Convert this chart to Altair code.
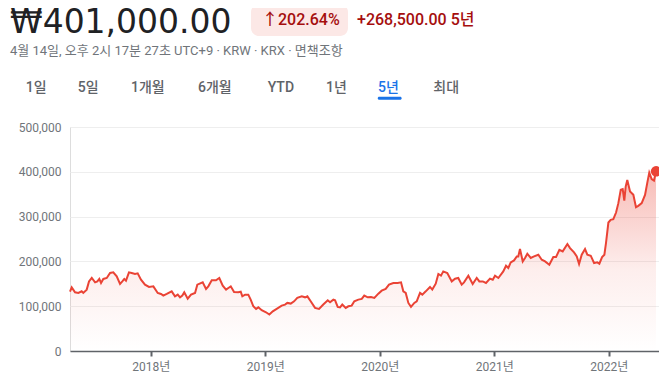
import altair as alt
import pandas as pd

# decimal-year positions and closing prices (KRW)
years = [
    2017.295, 2017.310, 2017.339, 2017.368, 2017.397, 2017.411, 2017.441, 2017.461, 2017.485, 2017.514,
    2017.534, 2017.551, 2017.566, 2017.586, 2017.616, 2017.645, 2017.673, 2017.703, 2017.732, 2017.752,
    2017.769, 2017.784, 2017.810, 2017.834, 2017.863, 2017.886, 2017.915, 2017.950, 2017.985, 2018.023,
    2018.061, 2018.090, 2018.110, 2018.140, 2018.183, 2018.212, 2018.236, 2018.256, 2018.276, 2018.293,
    2018.323, 2018.352, 2018.387, 2018.407, 2018.454, 2018.483, 2018.503, 2018.533, 2018.570, 2018.599,
    2018.629, 2018.658, 2018.678, 2018.699, 2018.728, 2018.765, 2018.786, 2018.800, 2018.824, 2018.852,
    2018.873, 2018.896, 2018.920, 2018.940, 2018.969, 2019.007, 2019.036, 2019.066, 2019.100, 2019.144,
    2019.173, 2019.193, 2019.223, 2019.252, 2019.280, 2019.319, 2019.348, 2019.368, 2019.397, 2019.435,
    2019.470, 2019.507, 2019.546, 2019.566, 2019.595, 2019.610, 2019.633, 2019.653, 2019.673, 2019.703,
    2019.726, 2019.755, 2019.778, 2019.813, 2019.843, 2019.865, 2019.895, 2019.924, 2019.953, 2019.988,
    2020.017, 2020.052, 2020.081, 2020.119, 2020.157, 2020.186, 2020.206, 2020.227, 2020.250, 2020.273,
    2020.302, 2020.323, 2020.352, 2020.372, 2020.402, 2020.439, 2020.459, 2020.489, 2020.512, 2020.535,
    2020.555, 2020.590, 2020.629, 2020.658, 2020.686, 2020.716, 2020.736, 2020.774, 2020.812, 2020.847,
    2020.870, 2020.900, 2020.928, 2020.963, 2020.987, 2021.007, 2021.036, 2021.079, 2021.103, 2021.123,
    2021.144, 2021.173, 2021.197, 2021.210, 2021.225, 2021.249, 2021.269, 2021.289, 2021.319, 2021.348,
    2021.385, 2021.415, 2021.444, 2021.481, 2021.516, 2021.540, 2021.569, 2021.598, 2021.639, 2021.662,
    2021.697, 2021.721, 2021.741, 2021.764, 2021.793, 2021.813, 2021.843, 2021.872, 2021.900, 2021.918,
    2021.942, 2021.962, 2021.976, 2021.997, 2022.017, 2022.040, 2022.064, 2022.084, 2022.105, 2022.122,
    2022.136, 2022.148, 2022.162, 2022.186, 2022.215, 2022.238, 2022.258, 2022.288, 2022.317, 2022.337,
    2022.354, 2022.375, 2022.395, 2022.413,
]

prices = [
    132500, 142100, 131000, 129600, 133200, 129600, 137000, 155400, 163000, 153200,
    155400, 160800, 151900, 160800, 163000, 174200, 175500, 166600, 149700, 155400,
    160800, 157000, 175500, 174200, 171900, 173300, 159200, 148100, 143000, 144300,
    129600, 127400, 123600, 127400, 133200, 122000, 125800, 119800, 123600, 131000,
    116900, 125800, 129600, 148100, 153200, 138500, 144300, 157700, 157700, 163000,
    145900, 137000, 140700, 144300, 131800, 131000, 132500, 122000, 125800, 125800,
    114700, 99800, 94000, 97500, 90900, 86400, 81300, 88600, 94000, 101300,
    103600, 107300, 105800, 110900, 118500, 122000, 119800, 122000, 110900, 96200,
    94000, 103600, 113100, 108700, 114700, 113100, 98400, 97500, 103600, 96200,
    99800, 101300, 110900, 114700, 116200, 123600, 119800, 120700, 118500, 128000,
    134700, 138500, 148100, 151900, 151900, 153200, 133200, 129600, 107300, 98400,
    107300, 110900, 129600, 125800, 133200, 143000, 137000, 150300, 171900, 168100,
    177700, 174200, 155400, 161500, 163000, 148100, 153200, 168100, 149700, 163000,
    155400, 155400, 151900, 161500, 159200, 168100, 163000, 177700, 190400, 185300,
    197800, 202200, 211100, 211100, 227600, 200000, 207600, 217100, 207600, 211100,
    214900, 203800, 200000, 192600, 209800, 209800, 226000, 222300, 238700, 229800,
    220000, 211100, 194200, 214900, 227600, 214900, 212700, 196400, 197800, 194900,
    209800, 214900, 241000, 286800, 292900, 294400, 309100, 330000, 359700, 361200,
    335800, 367000, 381900, 355900, 348500, 321100, 324000, 330000, 348500, 375900,
    398200, 383500, 380400, 401000,
]

year_ticks = [2018, 2019, 2020, 2021, 2022]
price_ticks = [0, 100000, 200000, 300000, 400000, 500000]
tabs = ["1일", "5일", "1개월", "6개월", "YTD", "1년", "5년", "최대"]

price_text = "₩401,000.00"
change_pct = "↑202.64%"
change_abs = "+268,500.00 5년"
subtitle = "4월 14일, 오후 2시 17분 27초 UTC+9 · KRW · KRX · 면책조항"

FONT = "Roboto, 'Noto Sans CJK KR', sans-serif"
BIG_FONT = "'DejaVu Sans', Roboto, sans-serif"
RED = "#ea4335"

df = pd.DataFrame({"year": years, "price": prices})
last = df.tail(1)

x_enc = alt.X(
    "year:Q",
    scale=alt.Scale(domain=[2017.295, 2022.439], nice=False, zero=False),
    axis=alt.Axis(
        values=year_ticks, labelExpr="datum.value + '년'", grid=False,
        domainColor="#5f6368", domainWidth=1.5, tickColor="#5f6368", tickWidth=2,
        tickSize=5, labelColor="#70757a", labelFontSize=12, labelFont=FONT,
        labelPadding=5, title=None,
    ),
)
y_enc = alt.Y(
    "price:Q",
    scale=alt.Scale(domain=[0, 500000], nice=False),
    axis=alt.Axis(
        values=price_ticks, format=",d", domain=False, ticks=False,
        gridColor="#eeeeee", gridWidth=1, labelColor="#70757a", labelFontSize=12,
        labelFont=FONT, labelPadding=9, title=None,
    ),
)

gradient = alt.Gradient(
    gradient="linear",
    stops=[
        alt.GradientStop(color="rgba(234,67,53,0.36)", offset=0),
        alt.GradientStop(color="rgba(234,67,53,0.09)", offset=0.55),
        alt.GradientStop(color="rgba(234,67,53,0.0)", offset=1),
    ],
    x1=0, x2=0, y1=0, y2=1,
)

area = alt.Chart(df).mark_area(color=gradient).encode(x=x_enc, y=y_enc)
line = alt.Chart(df).mark_line(color=RED, strokeWidth=2).encode(x="year:Q", y="price:Q")
dot = alt.Chart(last).mark_circle(color=RED, size=110, opacity=1).encode(x="year:Q", y="price:Q")

one = pd.DataFrame({"k": [0]})


def txt(s, px, py, size, color, weight="normal", font=FONT):
    return alt.Chart(one).mark_text(
        text=s, align="left", baseline="alphabetic", fontSize=size,
        color=color, fontWeight=weight, font=font,
    ).encode(x=alt.value(px), y=alt.value(py))


badge = alt.Chart(one).mark_rect(color="#fce8e6", cornerRadius=8).encode(
    x=alt.value(181), x2=alt.value(278), y=alt.value(-123), y2=alt.value(-91)
)
underline = alt.Chart(one).mark_rect(color="#1a73e8", cornerRadius=1.5).encode(
    x=alt.value(307.7), x2=alt.value(331.7), y=alt.value(-30.3), y2=alt.value(-27.3)
)

tab_x = [-44.3, 7.7, 61, 128, 197.7, 256, 308, 363.3]
tab_layers = [
    txt(t, tx, -35, 14, "#1a73e8" if t == "5년" else "#5f6368", 500)
    for t, tx in zip(tabs, tab_x)
]

layers = [
    area, line, dot,
    txt(price_text, -60, -94, 33, "#202124", "normal", BIG_FONT),
    badge,
    txt(change_pct, 192, -102, 16, "#a50e0e", 500),
    txt(change_abs, 287, -102, 16, "#a50e0e", 500),
    txt(subtitle, -60, -72, 13, "#70757a"),
    underline,
] + tab_layers

chart = alt.layer(*layers).properties(
    width=589, height=224,
    autosize=alt.AutoSizeParams(type="none"),
    padding={"left": 62, "top": 119, "right": 0, "bottom": 26},
).configure_view(strokeWidth=0).configure(background="#ffffff")

chart.save("out.html", embed_options={"renderer": "svg", "actions": False})
